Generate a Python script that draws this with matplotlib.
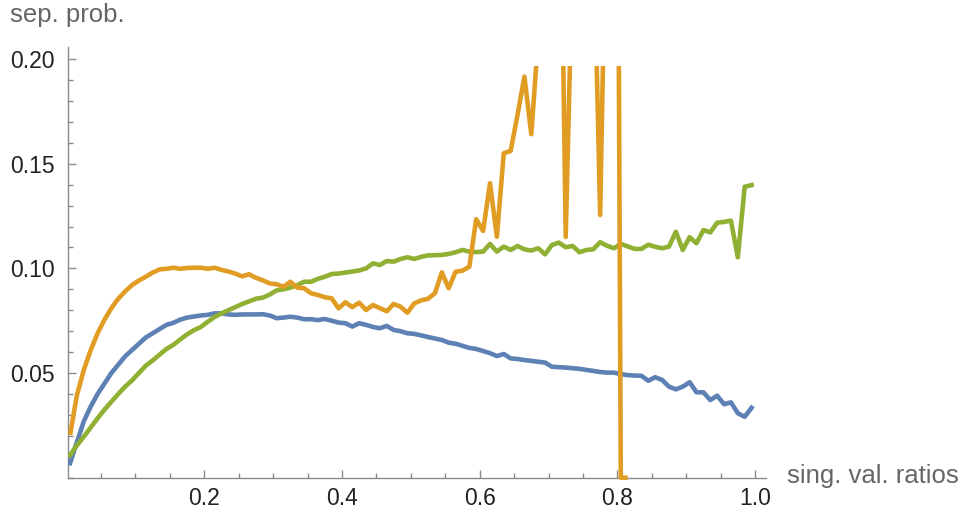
import numpy as np
import matplotlib
matplotlib.use("Agg")
import matplotlib.pyplot as plt
from matplotlib.patches import Rectangle
from matplotlib.ticker import MultipleLocator, FixedLocator

plt.rcParams["font.family"] = ["Liberation Sans", "DejaVu Sans"]

# sample positions (singular value ratios)
ratios = np.linspace(0.005, 0.995, 100)

blue = [
    0.007, 0.017, 0.027, 0.034, 0.040, 0.045, 0.050, 0.054, 0.058, 0.061,
    0.064, 0.067, 0.069, 0.071, 0.073, 0.074, 0.0755, 0.0765, 0.077, 0.0775,
    0.0778, 0.0785, 0.0785, 0.078, 0.0778, 0.078, 0.078, 0.078, 0.0781, 0.0775,
    0.0762, 0.0765, 0.0769, 0.0765, 0.0757, 0.0757, 0.0753, 0.0758, 0.075, 0.0741,
    0.0738, 0.0722, 0.0738, 0.073, 0.072, 0.0714, 0.0725, 0.0706, 0.070, 0.069,
    0.0687, 0.068, 0.0672, 0.0665, 0.0658, 0.0645, 0.064, 0.063, 0.062, 0.0615,
    0.0605, 0.0595, 0.0581, 0.0591, 0.057, 0.0567, 0.0562, 0.0558, 0.0554, 0.055,
    0.053, 0.0528, 0.0526, 0.0523, 0.052, 0.0515, 0.051, 0.0505, 0.0502, 0.0502,
    0.0495, 0.049, 0.0488, 0.0487, 0.0463, 0.048, 0.0467, 0.0435, 0.0422, 0.0435,
    0.0456, 0.0408, 0.0408, 0.0371, 0.0392, 0.0351, 0.036, 0.0308, 0.0291, 0.0334,
]

green = [
    0.0108, 0.0155, 0.0196, 0.024, 0.0284, 0.0325, 0.0363, 0.040, 0.0435, 0.0465,
    0.050, 0.0535, 0.056, 0.0588, 0.0615, 0.0635, 0.066, 0.0685, 0.0705, 0.072,
    0.0745, 0.0768, 0.0785, 0.080, 0.0815, 0.083, 0.0842, 0.0855, 0.086, 0.0875,
    0.0895, 0.090, 0.0908, 0.092, 0.0936, 0.0936, 0.095, 0.096, 0.0973, 0.0975,
    0.098, 0.0985, 0.099, 0.100, 0.1024, 0.1016, 0.1035, 0.1032, 0.1045, 0.1053,
    0.1045, 0.1055, 0.1062, 0.1063, 0.1064, 0.1069, 0.1077, 0.1088, 0.108, 0.1078,
    0.108, 0.1117, 0.108, 0.1104, 0.1088, 0.1107, 0.1091, 0.1085, 0.1096, 0.1067,
    0.1112, 0.1123, 0.1101, 0.1107, 0.1077, 0.1088, 0.1091, 0.1125, 0.1108, 0.1096,
    0.1117, 0.1105, 0.1093, 0.1093, 0.1113, 0.1103, 0.1096, 0.1104, 0.1175, 0.1088,
    0.1149, 0.112, 0.1183, 0.1172, 0.1218, 0.1222, 0.1228, 0.1053, 0.139, 0.1398,
]

# orange runs off the top of the plot range and stops after ~0.81
orange = [
    0.0204, 0.0395, 0.0515, 0.061, 0.069, 0.0755, 0.081, 0.0855, 0.089, 0.092,
    0.0942, 0.096, 0.098, 0.0995, 0.0998, 0.1003, 0.0998, 0.1002, 0.1003, 0.1003,
    0.0998, 0.1003, 0.0993, 0.0985, 0.0975, 0.0962, 0.0972, 0.0955, 0.0943, 0.0928,
    0.0924, 0.0912, 0.0936, 0.0908, 0.0905, 0.0881, 0.0873, 0.0862, 0.0857, 0.0809,
    0.0838, 0.0815, 0.0836, 0.0801, 0.0825, 0.081, 0.0795, 0.083, 0.0817, 0.0788,
    0.0833, 0.0847, 0.0855, 0.0881, 0.0981, 0.0905, 0.0984, 0.0989, 0.1008, 0.1235,
    0.1179, 0.1407, 0.1151, 0.155, 0.1561, 0.1733, 0.1916, 0.1641, 0.21, 0.30,
    0.30, 0.35, 0.115, 0.25, 0.30, 0.30, 0.27, 0.1255, 0.30, 0.70,
    0.0, 0.0, np.nan, np.nan, np.nan, np.nan, np.nan, np.nan, np.nan, np.nan,
    np.nan, np.nan, np.nan, np.nan, np.nan, np.nan, np.nan, np.nan, np.nan, np.nan,
]

BLUE, ORANGE, GREEN = "#5E81B5", "#E19C24", "#8FB032"
AXIS_GRAY = "#8a8a8a"
LABEL_GRAY = "#666666"

W, H = 971, 518
fig = plt.figure(figsize=(W / 100, H / 100), dpi=100)
ax = fig.add_axes([68 / W, (H - 477.7) / H, (765.7 - 68) / W, (477.7 - 46.7) / H])

lw = 3.3
ax.plot(ratios, blue, color=BLUE, lw=lw, zorder=3, solid_joinstyle="round")
ax.plot(ratios, green, color=GREEN, lw=lw, zorder=4, solid_joinstyle="round")
(oline,) = ax.plot(ratios, orange, color=ORANGE, lw=lw, zorder=5,
                   solid_joinstyle="round", solid_capstyle="butt")
oline.set_clip_path(Rectangle((-0.1, -0.02), 1.3, 0.2167, transform=ax.transData))

ax.set_xlim(0.002, 1.0155)
ax.set_ylim(0, 0.2059)

for side in ("top", "right"):
    ax.spines[side].set_visible(False)
for side in ("left", "bottom"):
    ax.spines[side].set_color(AXIS_GRAY)
    ax.spines[side].set_linewidth(1.0)

ax.xaxis.set_major_locator(FixedLocator([0.2, 0.4, 0.6, 0.8, 1.0]))
ax.xaxis.set_minor_locator(MultipleLocator(0.05))
ax.yaxis.set_major_locator(FixedLocator([0.05, 0.10, 0.15, 0.20]))
ax.yaxis.set_minor_locator(MultipleLocator(0.01))
ax.set_xticklabels(["0.2", "0.4", "0.6", "0.8", "1.0"])
ax.set_yticklabels(["0.05", "0.10", "0.15", "0.20"])

ax.tick_params(which="both", direction="in", color=AXIS_GRAY, width=1.0,
               labelsize=16.5, labelcolor="#222222")
ax.tick_params(which="major", length=6)
ax.tick_params(which="minor", length=3.5)
ax.tick_params(axis="x", pad=7)
ax.tick_params(axis="y", pad=9.5)

fig.text(10 / W, 1 - 15 / H, "sep. prob.", color=LABEL_GRAY, fontsize=18.5,
         ha="left", va="center")
fig.text(787 / W, 1 - 476 / H, "sing. val. ratios", color=LABEL_GRAY, fontsize=18.5,
         ha="left", va="center")

fig.savefig("out.png", dpi=100)
